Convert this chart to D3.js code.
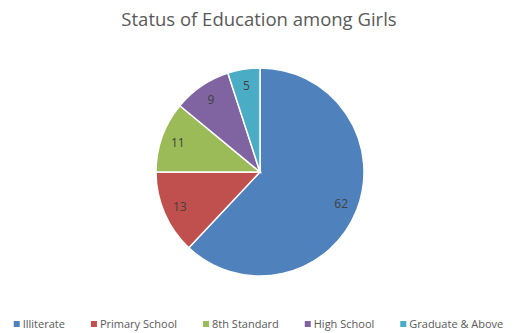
<!DOCTYPE html>
<html>
<head>
<meta charset="utf-8">
<script src="https://cdn.jsdelivr.net/npm/d3@7"></script>
<style>
  body { margin: 0; background: #fff; }
  text { font-family: "Open Sans", "Noto Sans", sans-serif; }
</style>
</head>
<body>
<div id="chart"></div>
<script>
var categories = ["Illiterate", "Primary School", "8th Standard", "High School", "Graduate & Above"];
var values = [62, 13, 11, 9, 5];
var colors = ["#4F81BD", "#C0504D", "#9BBB59", "#8064A2", "#4BACC6"];

var w = 517, h = 333;
var cx = 260, cy = 172, r = 104;

var svg = d3.select("#chart").append("svg")
    .attr("width", w)
    .attr("height", h);

// title
svg.append("text")
    .attr("x", 259)
    .attr("y", 26)
    .attr("text-anchor", "middle")
    .attr("fill", "#595959")
    .style("font-size", "18.5px")
    .text("Status of Education among Girls");

var data = categories.map(function(c, i) { return { name: c, value: values[i], color: colors[i] }; });

var pie = d3.pie().sort(null).value(function(d) { return d.value; });
var arc = d3.arc().innerRadius(0).outerRadius(r);
var labelArc = d3.arc().innerRadius(r * 0.84).outerRadius(r * 0.84);

var g = svg.append("g").attr("transform", "translate(" + cx + "," + cy + ")");

g.selectAll("path.slice")
    .data(pie(data))
    .enter().append("path")
    .attr("class", "slice")
    .attr("d", arc)
    .attr("fill", function(d) { return d.data.color; })
    .attr("stroke", "#fff")
    .attr("stroke-width", 1.5);

g.selectAll("text.lbl")
    .data(pie(data))
    .enter().append("text")
    .attr("class", "lbl")
    .attr("transform", function(d) { return "translate(" + labelArc.centroid(d) + ")"; })
    .attr("text-anchor", "middle")
    .attr("dy", "0.35em")
    .attr("fill", "#404040")
    .style("font-size", "12px")
    .text(function(d) { return d.data.value; });

// legend
var legend = svg.append("g").attr("class", "legend");
var items = legend.selectAll("g.item")
    .data(data)
    .enter().append("g")
    .attr("class", "item");

items.append("rect")
    .attr("width", 6)
    .attr("height", 6)
    .attr("y", -3)
    .attr("fill", function(d) { return d.color; });

items.append("text")
    .attr("x", 9)
    .attr("dy", "0.35em")
    .attr("fill", "#595959")
    .style("font-size", "11px")
    .text(function(d) { return d.name; });

var gap = 26, xpos = 0, widths = [];
items.each(function() { widths.push(this.getBBox().width); });
var total = d3.sum(widths) + gap * (widths.length - 1);
xpos = (w - total) / 2;
items.attr("transform", function(d, i) {
    var x = xpos;
    xpos += widths[i] + gap;
    return "translate(" + x + ",324)";
});
</script>
</body>
</html>
